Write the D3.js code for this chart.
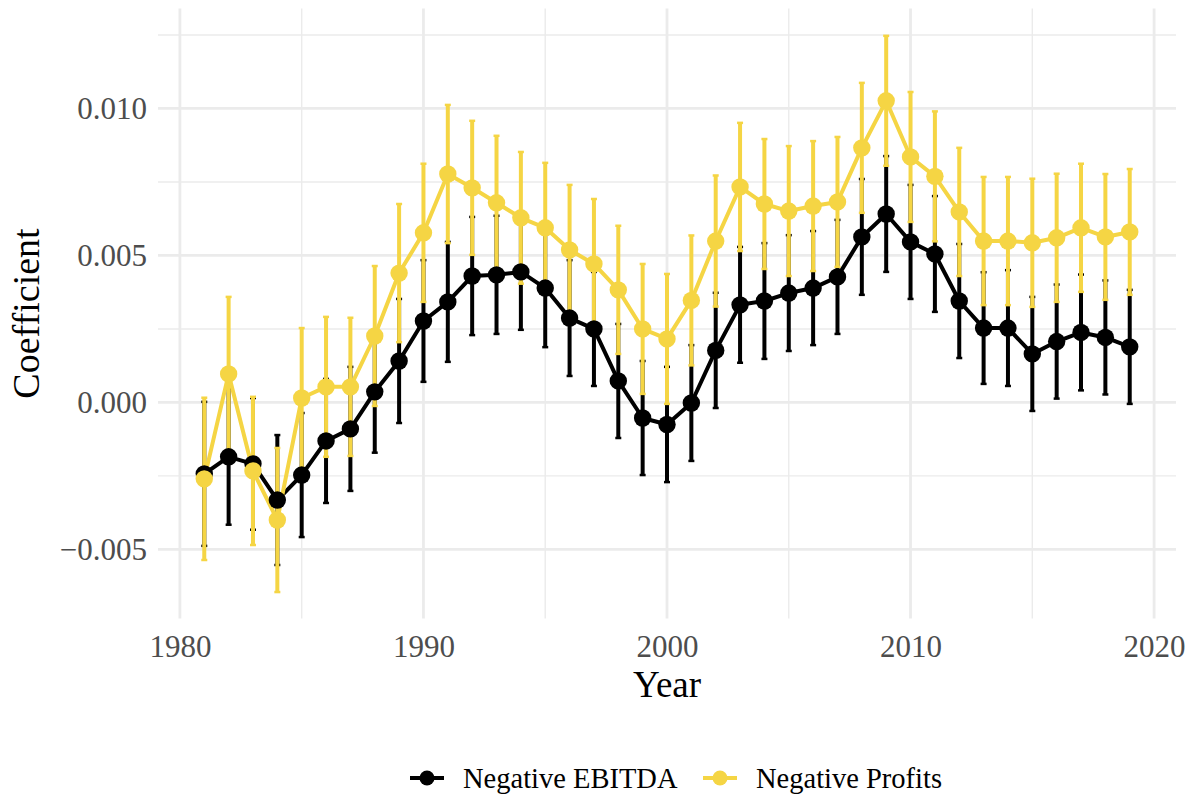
<!DOCTYPE html>
<html>
<head>
<meta charset="utf-8">
<script src="https://cdn.jsdelivr.net/npm/d3@7"></script>
<style>
	body { margin: 0; background: #fff; }
	svg { display: block; font-family: "Liberation Serif", "DejaVu Serif", serif; }
</style>
</head>
<body>
<svg id="chart"></svg>
<script>
const years = d3.range(1981, 2020);

// Negative EBITDA: estimate and half-width of the 95% interval
const ebitda = [-0.00243, -0.00185, -0.00209, -0.00332, -0.00247, -0.00131, -0.0009, 0.00036, 0.00141, 0.00277,
	0.00342, 0.0043, 0.00434, 0.00444, 0.00389, 0.00287, 0.0025, 0.00073, -0.00053, -0.00075,
	-0.00002, 0.00177, 0.00332, 0.00345, 0.00372, 0.00389, 0.00427, 0.00563, 0.00641, 0.00546,
	0.00505, 0.00345, 0.00253, 0.00253, 0.00165, 0.00207, 0.00238, 0.00221, 0.00189];
const ebitda_ci = [0.00245, 0.00231, 0.00224, 0.00221, 0.00211, 0.00211, 0.00211, 0.00207, 0.00211, 0.00207,
	0.00204, 0.00201, 0.00201, 0.00197, 0.00201, 0.00197, 0.00194, 0.00194, 0.00194, 0.00196,
	0.00197, 0.00196, 0.00197, 0.00197, 0.00197, 0.00194, 0.00194, 0.00197, 0.00197, 0.00194,
	0.00197, 0.00194, 0.0019, 0.00197, 0.00194, 0.00194, 0.00197, 0.00194, 0.00194];

// Negative Profits
const profits = [-0.0026, 0.00097, -0.00233, -0.004, 0.00015, 0.00053, 0.00053, 0.00226, 0.0044, 0.00577,
	0.00777, 0.0073, 0.00679, 0.00628, 0.00594, 0.00519, 0.00471, 0.00383, 0.0025, 0.00216,
	0.00347, 0.00549, 0.00733, 0.00675, 0.00651, 0.00668, 0.00682, 0.00866, 0.01026, 0.00835,
	0.00769, 0.00648, 0.00549, 0.00549, 0.00543, 0.0056, 0.00594, 0.00563, 0.0058];
const profits_ci = [0.00276, 0.00262, 0.00252, 0.00245, 0.00238, 0.00238, 0.00235, 0.00238, 0.00235, 0.00235,
	0.00235, 0.00228, 0.00228, 0.00224, 0.00221, 0.00221, 0.00221, 0.00218, 0.00221, 0.00221,
	0.00221, 0.00223, 0.00218, 0.00221, 0.00221, 0.00221, 0.00221, 0.00221, 0.00221, 0.00221,
	0.00221, 0.00218, 0.00218, 0.00218, 0.00218, 0.00218, 0.00218, 0.00214, 0.00214];

const series_names = ['Negative EBITDA', 'Negative Profits'];
const series_colors = ['#000000', '#F5D544'];

const x_ticks = [1980, 1990, 2000, 2010, 2020];
const x_minor = [1985, 1995, 2005, 2015];
const y_ticks = [-0.005, 0, 0.005, 0.010];
const y_minor = [-0.0025, 0.0025, 0.0075, 0.0125];

const width = 1194, height = 799;
const svg = d3.select('#chart').attr('width', width).attr('height', height);

const x = d3.scaleLinear().domain([1979.1, 2020.9]).range([158, 1176]);
const y = d3.scaleLinear().domain([-0.00735, 0.0134]).range([618.5, 8.5]);

const grid = svg.append('g');
grid.selectAll('.ymin').data(y_minor).join('line')
	.attr('x1', x.range()[0]).attr('x2', x.range()[1])
	.attr('y1', d => y(d)).attr('y2', d => y(d))
	.attr('stroke', '#EBEBEB').attr('stroke-width', 1.4);
grid.selectAll('.xmin').data(x_minor).join('line')
	.attr('y1', y.range()[0]).attr('y2', y.range()[1])
	.attr('x1', d => x(d)).attr('x2', d => x(d))
	.attr('stroke', '#EBEBEB').attr('stroke-width', 1.4);
grid.selectAll('.ymaj').data(y_ticks).join('line')
	.attr('x1', x.range()[0]).attr('x2', x.range()[1])
	.attr('y1', d => y(d)).attr('y2', d => y(d))
	.attr('stroke', '#EBEBEB').attr('stroke-width', 2.8);
grid.selectAll('.xmaj').data(x_ticks).join('line')
	.attr('y1', y.range()[0]).attr('y2', y.range()[1])
	.attr('x1', d => x(d)).attr('x2', d => x(d))
	.attr('stroke', '#EBEBEB').attr('stroke-width', 2.8);

const series = [
	{name: series_names[0], color: series_colors[0], values: ebitda, ci: ebitda_ci},
	{name: series_names[1], color: series_colors[1], values: profits, ci: profits_ci}
].map(s => ({...s, rows: years.map((yr, i) => ({year: yr, v: s.values[i], ci: s.ci[i]}))}));

// error bars (both series), then lines, then points
const bars = svg.append('g');
series.forEach(s => {
	const g = bars.append('g').attr('stroke', s.color).attr('stroke-width', 4);
	g.selectAll('line.bar').data(s.rows).join('line')
		.attr('x1', d => x(d.year)).attr('x2', d => x(d.year))
		.attr('y1', d => y(d.v - d.ci)).attr('y2', d => y(d.v + d.ci));
	g.selectAll('line.cap').data(s.rows.flatMap(d => [d.v - d.ci, d.v + d.ci].map(e => ({year: d.year, e}))))
		.join('line')
		.attr('x1', d => x(d.year) - 3).attr('x2', d => x(d.year) + 3)
		.attr('y1', d => y(d.e)).attr('y2', d => y(d.e))
		.attr('stroke-width', 2.5);
});

const line = d3.line().x(d => x(d.year)).y(d => y(d.v));
series.forEach(s => {
	svg.append('path').datum(s.rows)
		.attr('d', line).attr('fill', 'none')
		.attr('stroke', s.color).attr('stroke-width', 4).attr('stroke-linejoin', 'round');
});
series.forEach(s => {
	svg.append('g').selectAll('circle').data(s.rows).join('circle')
		.attr('cx', d => x(d.year)).attr('cy', d => y(d.v)).attr('r', 8.7)
		.attr('fill', s.color);
});

// axes
const xAxis = svg.append('g').attr('transform', `translate(0,${y.range()[0]})`)
	.call(d3.axisBottom(x).tickValues(x_ticks).tickFormat(d3.format('d')).tickSize(0).tickPadding(16));
const yAxis = svg.append('g').attr('transform', `translate(${x.range()[0]},0)`)
	.call(d3.axisLeft(y).tickValues(y_ticks).tickFormat(d => d3.format('.3f')(d).replace('-', '\u2212')).tickSize(0).tickPadding(11));
[xAxis, yAxis].forEach(a => {
	a.select('.domain').remove();
	a.selectAll('text').attr('fill', '#4D4D4D').style('font-size', '31px').style('font-family', '"Liberation Serif", serif');
});

svg.append('text').attr('x', (x.range()[0] + x.range()[1]) / 2).attr('y', 697)
	.attr('text-anchor', 'middle').style('font-size', '37px').text('Year');
svg.append('text').attr('transform', `translate(39,${(y.range()[0] + y.range()[1]) / 2}) rotate(-90)`)
	.attr('text-anchor', 'middle').style('font-size', '38px').text('Coefficient');

// legend
const legend_x = [410, 703];
const legend = svg.append('g').attr('transform', 'translate(0,778)');
series.forEach((s, i) => {
	const g = legend.append('g').attr('transform', `translate(${legend_x[i]},0)`);
	g.append('line').attr('x1', 0).attr('x2', 34).attr('stroke', s.color).attr('stroke-width', 4);
	g.append('circle').attr('cx', 17).attr('r', 7.5).attr('fill', s.color);
	g.append('text').attr('x', 53).attr('dy', '0.35em').style('font-size', '28.5px').text(s.name);
});
</script>
</body>
</html>
